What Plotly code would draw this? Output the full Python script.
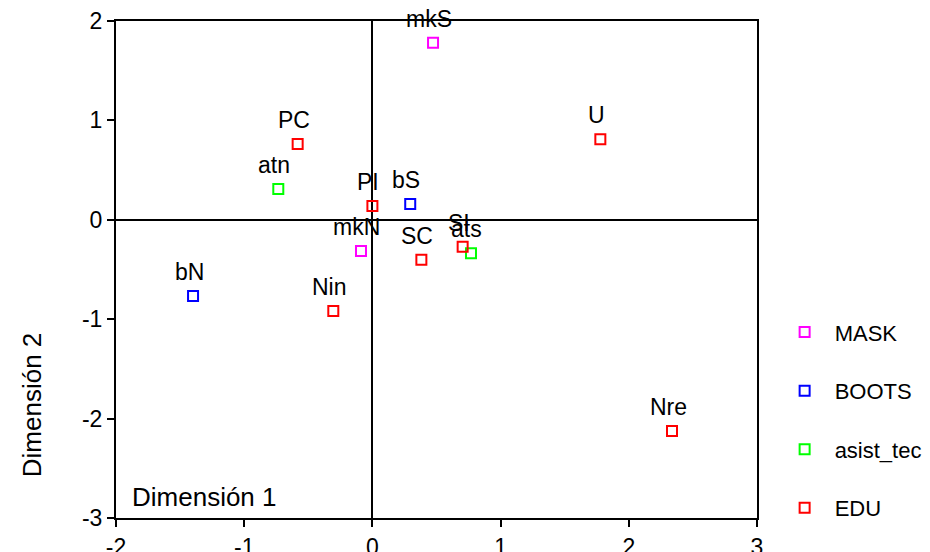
import plotly.graph_objects as go

series_names = ["MASK", "BOOTS", "asist_tec", "EDU"]
series_colors = ["#FF00FF", "#0000FF", "#00FF00", "#FF0000"]

mask_labels = ["mkS", "mkN"]
mask_x = [0.473, -0.089]
mask_y = [1.78, -0.314]

boots_labels = ["bS", "bN"]
boots_x = [0.295, -1.399]
boots_y = [0.159, -0.767]

asist_labels = ["atn", "ats"]
asist_x = [-0.734, 0.769]
asist_y = [0.31, -0.337]

edu_labels = ["PC", "PI", "SC", "SI", "U", "Nin", "Nre"]
edu_x = [-0.583, 0.0, 0.382, 0.704, 1.778, -0.305, 2.337]
edu_y = [0.763, 0.139, -0.401, -0.27, 0.81, -0.917, -2.125]

x_ticks = [-2, -1, 0, 1, 2, 3]
y_ticks = [-3, -2, -1, 0, 1, 2]

FONT = "Liberation Sans, Arial, sans-serif"

groups = [
    (mask_labels, mask_x, mask_y),
    (boots_labels, boots_x, boots_y),
    (asist_labels, asist_x, asist_y),
    (edu_labels, edu_x, edu_y),
]

fig = go.Figure()
annotations = []
for name, color, (labs, xs, ys) in zip(series_names, series_colors, groups):
    fig.add_trace(go.Scatter(
        x=xs, y=ys, mode="markers", name=name, legendgroup=name,
        marker=dict(symbol="square-open", size=10, color=color, line=dict(width=2, color=color)),
        cliponaxis=False,
    ))
    for lab, xv, yv in zip(labs, xs, ys):
        annotations.append(dict(
            x=xv, y=yv, xref="x", yref="y", text=lab, showarrow=False,
            xanchor="center", yanchor="middle", yshift=24, xshift=-4,
            font=dict(family=FONT, size=23, color="black"),
        ))

annotations.append(dict(
    x=0.022, y=0.042, xref="paper", yref="paper", text="Dimensión 1", showarrow=False,
    xanchor="left", yanchor="middle", font=dict(family=FONT, size=26, color="black"),
))
annotations.append(dict(
    x=-0.131, y=0.227, xref="paper", yref="paper", text="Dimensión 2", showarrow=False,
    xanchor="center", yanchor="middle", textangle=-90,
    font=dict(family=FONT, size=26, color="black"),
))

axis_common = dict(
    showline=True, linecolor="black", linewidth=2, mirror=True,
    ticks="outside", ticklen=7, tickwidth=2, tickcolor="black",
    showgrid=False, zeroline=True, zerolinecolor="black", zerolinewidth=2,
    tickfont=dict(family=FONT, size=23, color="black"),
    automargin=False,
)

fig.update_layout(
    width=930, height=552,
    margin=dict(l=108, r=181, t=13, b=42, autoexpand=False),
    paper_bgcolor="white", plot_bgcolor="white",
    xaxis=dict(range=[-2, 3], tickvals=x_ticks, ticktext=[str(v) for v in x_ticks], **axis_common),
    yaxis=dict(range=[-3, 2], tickvals=y_ticks, ticktext=[str(v) for v in y_ticks], **axis_common),
    legend=dict(
        x=1.0275, y=0.416, xanchor="left", yanchor="top",
        font=dict(family=FONT, size=22, color="black"),
        tracegroupgap=27, itemwidth=50, bgcolor="rgba(0,0,0,0)",
    ),
    annotations=annotations,
    showlegend=True,
)

fig.write_html("out.html")
